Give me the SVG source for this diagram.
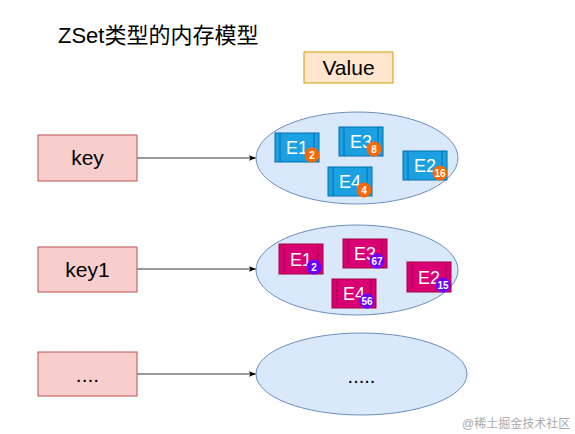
<svg xmlns="http://www.w3.org/2000/svg" width="575" height="434" viewBox="0 0 575 434">
<defs>
<style>
text{font-family:"Liberation Sans","Noto Sans CJK SC",sans-serif}
.key{fill:#f8cecc;stroke:#b85450;stroke-width:1}
.kt{font-size:21px;fill:#000;text-anchor:middle}
.ell{fill:#dae8fc;stroke:#6c8ebf;stroke-width:1}
.b{fill:#1ba1e2;stroke:#006eaf;stroke-width:1}
.bl{stroke:#006eaf;stroke-width:1}
.p{fill:#d80073;stroke:#a50040;stroke-width:1}
.pl{stroke:#a50040;stroke-width:0.8}
.et{font-size:18px;fill:#fff}
.oc{fill:#fa6800}
.pc{fill:#6a00ff}
.ct{font-size:10px;font-weight:bold;fill:#fff;text-anchor:middle}
.conn{stroke:#333;stroke-width:1;fill:none}
</style>
<marker id="arr" viewBox="0 0 10 10" refX="10" refY="5" markerWidth="7" markerHeight="7" orient="auto" markerUnits="userSpaceOnUse">
<path d="M0,1 L10,5 L0,9 L2,5 Z" fill="#000"/>
</marker>
</defs>
<rect width="575" height="434" fill="#fff"/>
<text x="58" y="43" font-size="22" fill="#000">ZSet类型的内存模型</text>
<g id="value">
<rect x="304" y="52" width="89" height="31" fill="#ffe6cc" stroke="#d79b00"/>
<text x="348.5" y="75" font-size="21" text-anchor="middle" fill="#000">Value</text>
</g>
<g id="connectors">
<line class="conn" x1="137" y1="158" x2="256" y2="158" marker-end="url(#arr)"/>
<line class="conn" x1="137" y1="269" x2="256" y2="269" marker-end="url(#arr)"/>
<line class="conn" x1="137" y1="374" x2="256" y2="374" marker-end="url(#arr)"/>
</g>
<g id="key">
<rect class="key" x="38" y="135" width="99" height="46"/>
<text class="kt" x="87.5" y="165">key</text>
</g>
<g id="key1">
<rect class="key" x="38" y="247" width="99" height="45"/>
<text class="kt" x="87.5" y="277">key1</text>
</g>
<g id="key2">
<rect class="key" x="38" y="352" width="99" height="44"/>
<text class="kt" x="87.5" y="382">....</text>
</g>
<g id="zset1">
<ellipse class="ell" cx="357" cy="158" rx="101" ry="46"/>
<g id="z1e1"><rect class="b" x="275" y="133" width="44" height="29"/><line class="bl" x1="280" y1="133" x2="280" y2="162"/><line class="bl" x1="314" y1="133" x2="314" y2="162"/><text class="et" x="286" y="154">E1</text><circle class="oc" cx="312" cy="155" r="7.5"/><text class="ct" x="312" y="159">2</text></g>
<g id="z1e3"><rect class="b" x="339" y="127" width="44" height="29"/><line class="bl" x1="344" y1="127" x2="344" y2="156"/><line class="bl" x1="378" y1="127" x2="378" y2="156"/><text class="et" x="350" y="148">E3</text><circle class="oc" cx="374" cy="149" r="7.5"/><text class="ct" x="374" y="153">8</text></g>
<g id="z1e4"><rect class="b" x="328" y="167" width="44" height="29"/><line class="bl" x1="333" y1="167" x2="333" y2="196"/><line class="bl" x1="367" y1="167" x2="367" y2="196"/><text class="et" x="339" y="188">E4</text><circle class="oc" cx="364" cy="190" r="7.5"/><text class="ct" x="364" y="194">4</text></g>
<g id="z1e2"><rect class="b" x="403" y="151" width="44" height="29"/><line class="bl" x1="408" y1="151" x2="408" y2="180"/><line class="bl" x1="442" y1="151" x2="442" y2="180"/><text class="et" x="414" y="172">E2</text><circle class="oc" cx="440" cy="173" r="7.5"/><text class="ct" x="440" y="177">16</text></g>
</g>
<g id="zset2">
<ellipse class="ell" cx="357" cy="270" rx="101" ry="45"/>
<g id="z2e1"><rect class="p" x="279" y="244" width="44" height="30"/><line class="pl" x1="284" y1="244" x2="284" y2="274"/><line class="pl" x1="318" y1="244" x2="318" y2="274"/><text class="et" x="290" y="266">E1</text><circle class="pc" cx="314" cy="267" r="7.5"/><text class="ct" x="314" y="271">2</text></g>
<g id="z2e3"><rect class="p" x="343" y="239" width="44" height="29"/><line class="pl" x1="348" y1="239" x2="348" y2="268"/><line class="pl" x1="382" y1="239" x2="382" y2="268"/><text class="et" x="354" y="260">E3</text><circle class="pc" cx="377" cy="261" r="7.5"/><text class="ct" x="377" y="265">67</text></g>
<g id="z2e4"><rect class="p" x="332" y="279" width="44" height="29"/><line class="pl" x1="337" y1="279" x2="337" y2="308"/><line class="pl" x1="371" y1="279" x2="371" y2="308"/><text class="et" x="343" y="300">E4</text><circle class="pc" cx="367" cy="301" r="7.5"/><text class="ct" x="367" y="305">56</text></g>
<g id="z2e2"><rect class="p" x="407" y="262" width="44" height="30"/><line class="pl" x1="412" y1="262" x2="412" y2="292"/><line class="pl" x1="446" y1="262" x2="446" y2="292"/><text class="et" x="418" y="284">E2</text><circle class="pc" cx="443" cy="285" r="7.5"/><text class="ct" x="443" y="289">15</text></g>
</g>
<g id="zset3">
<ellipse class="ell" cx="361.5" cy="374" rx="105.5" ry="41"/>
<text x="361.5" y="383" font-size="20" text-anchor="middle" fill="#000">.....</text>
</g>
<text x="462" y="428" font-size="12" fill="#aaa">@稀土掘金技术社区</text>
</svg>
